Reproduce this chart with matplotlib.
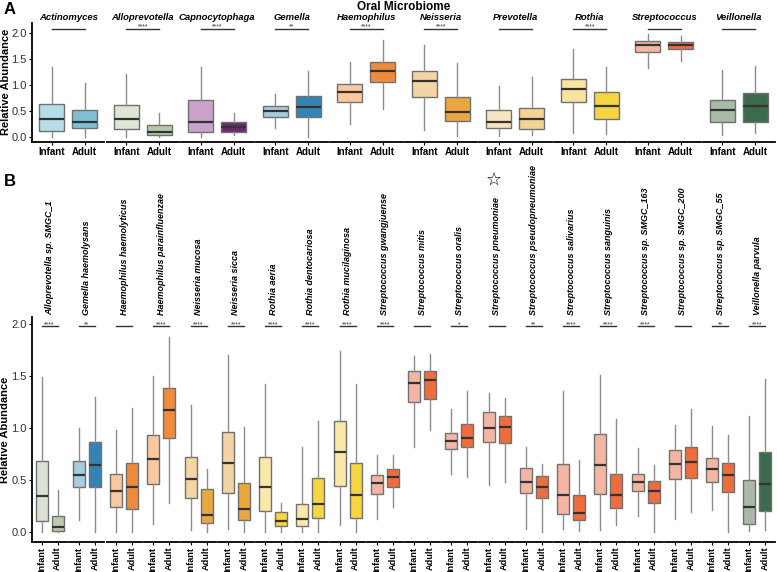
import matplotlib
matplotlib.use("Agg")
import matplotlib.pyplot as plt

plt.rcParams["font.family"] = ["Liberation Sans", "DejaVu Sans"]

W, H = 777, 572

# ---- panel A: genus level ----
genera = ["Actinomyces", "Alloprevotella", "Capnocytophaga", "Gemella", "Haemophilus",
          "Neisseria", "Prevotella", "Rothia", "Streptococcus", "Veillonella"]
genus_sig = ["", "****", "****", "**", "****", "****", "", "****", "", ""]
# [whisker low, q1, median, q3, whisker high]
genus_infant = [
    [0.00, 0.12, 0.35, 0.63, 1.34],
    [0.00, 0.15, 0.35, 0.62, 1.21],
    [0.00, 0.10, 0.28, 0.71, 1.34],
    [0.17, 0.39, 0.49, 0.60, 0.82],
    [0.24, 0.67, 0.87, 1.01, 1.44],
    [0.13, 0.76, 1.08, 1.27, 1.77],
    [0.02, 0.17, 0.28, 0.52, 0.98],
    [0.07, 0.67, 0.92, 1.11, 1.69],
    [1.33, 1.64, 1.76, 1.85, 1.97],
    [0.04, 0.29, 0.52, 0.71, 1.28],
]
genus_adult = [
    [0.00, 0.17, 0.28, 0.52, 1.03],
    [0.00, 0.04, 0.10, 0.22, 0.46],
    [0.04, 0.09, 0.18, 0.28, 0.46],
    [0.00, 0.39, 0.58, 0.79, 1.26],
    [0.54, 1.06, 1.27, 1.44, 1.87],
    [0.02, 0.31, 0.47, 0.76, 1.42],
    [0.04, 0.15, 0.34, 0.55, 1.15],
    [0.05, 0.35, 0.60, 0.86, 1.35],
    [1.46, 1.69, 1.76, 1.83, 1.94],
    [0.07, 0.29, 0.60, 0.84, 1.37],
]
genus_infant_colors = ["#b7dde8", "#dfe6d6", "#c8a2c8", "#a6cce0", "#f9c8a0",
                       "#f3d4a4", "#f8e4c0", "#f8e39f", "#f4b6a2", "#a9b9a7"]
genus_adult_colors = ["#7fbfd4", "#b8c9a6", "#6a2d6a", "#3384b4", "#ef8b3b",
                      "#e9a73f", "#f5d393", "#f5d540", "#ef6d3c", "#3c6a4d"]

# ---- panel B: species level ----
species = ["Alloprevotella sp. SMGC_1", "Gemella haemolysans", "Haemophilus haemolyticus",
           "Haemophilus parainfluenzae", "Neisseria mucosa", "Neisseria sicca",
           "Rothia aeria", "Rothia dentocariosa", "Rothia mucilaginosa",
           "Streptococcus gwangjuense", "Streptococcus mitis", "Streptococcus oralis",
           "Streptococcus pneumoniae", "Streptococcus pseudopneumoniae",
           "Streptococcus salivarius", "Streptococcus sanguinis",
           "Streptococcus sp. SMGC_163", "Streptococcus sp. SMGC_200",
           "Streptococcus sp. SMGC_55", "Veillonella parvula"]
species_sig = ["****", "**", "", "****", "****", "****", "****", "****", "****", "****",
               "", "*", "", "**", "****", "****", "****", "", "**", "****"]
species_infant = [
    [0.00, 0.10, 0.34, 0.68, 1.49],
    [0.11, 0.43, 0.55, 0.68, 1.00],
    [0.00, 0.24, 0.39, 0.56, 0.98],
    [0.07, 0.46, 0.70, 0.93, 1.50],
    [0.02, 0.32, 0.51, 0.72, 1.22],
    [0.03, 0.37, 0.66, 0.96, 1.70],
    [0.00, 0.20, 0.43, 0.72, 1.42],
    [0.00, 0.05, 0.12, 0.27, 0.82],
    [0.06, 0.44, 0.77, 1.07, 1.74],
    [0.12, 0.36, 0.47, 0.55, 0.74],
    [0.82, 1.25, 1.43, 1.55, 1.69],
    [0.56, 0.80, 0.87, 0.95, 1.18],
    [0.45, 0.86, 1.00, 1.15, 1.34],
    [0.03, 0.37, 0.48, 0.61, 0.82],
    [0.03, 0.17, 0.35, 0.65, 1.36],
    [0.02, 0.36, 0.64, 0.94, 1.51],
    [0.15, 0.39, 0.48, 0.56, 0.81],
    [0.12, 0.51, 0.65, 0.79, 1.03],
    [0.21, 0.48, 0.60, 0.71, 1.02],
    [0.01, 0.07, 0.24, 0.50, 1.12],
]
species_adult = [
    [0.00, 0.01, 0.04, 0.15, 0.40],
    [0.00, 0.43, 0.64, 0.86, 1.30],
    [0.00, 0.22, 0.43, 0.66, 1.19],
    [0.28, 0.90, 1.17, 1.39, 1.88],
    [0.00, 0.08, 0.16, 0.41, 0.60],
    [0.00, 0.11, 0.22, 0.47, 1.01],
    [0.00, 0.05, 0.10, 0.19, 0.28],
    [0.00, 0.13, 0.27, 0.52, 1.07],
    [0.00, 0.13, 0.35, 0.66, 1.42],
    [0.24, 0.43, 0.53, 0.60, 0.74],
    [0.98, 1.28, 1.46, 1.55, 1.71],
    [0.53, 0.82, 0.90, 1.04, 1.36],
    [0.48, 0.85, 1.01, 1.12, 1.29],
    [0.00, 0.32, 0.43, 0.54, 0.65],
    [0.01, 0.11, 0.18, 0.35, 0.69],
    [0.06, 0.23, 0.35, 0.56, 1.09],
    [0.00, 0.28, 0.39, 0.49, 0.64],
    [0.19, 0.52, 0.67, 0.82, 1.18],
    [0.00, 0.38, 0.55, 0.66, 0.93],
    [0.02, 0.20, 0.46, 0.77, 1.47],
]
species_infant_colors = ["#dbe2d5", "#a6cce0", "#f9c8a0", "#f9c8a0", "#f3d4a4", "#f3d4a4",
                         "#f9e8a8", "#f9e8a8", "#f9e8a8"] + ["#f4b6a2"] * 10 + ["#a9b9a7"]
species_adult_colors = ["#bccbac", "#3384b4", "#ef8b3b", "#ef8b3b", "#e9a73f", "#e9a73f",
                        "#f5d540", "#f5d540", "#f5d540"] + ["#ef6d3c"] * 10 + ["#3c6a4d"]


def draw_facets(fig, names, infant, adult, sig, inf_colors, ad_colors, step_px, width_px,
                top_px, bottom_px, ylim, sig_y, rotate):
    bottom = 1 - bottom_px / H
    height = (bottom_px - top_px) / H
    axes = []
    for i, name in enumerate(names):
        ax = fig.add_axes([(32 + i * step_px) / W, bottom, width_px / W, height])
        stats = []
        for label, vals in (("Infant", infant[i]), ("Adult", adult[i])):
            lo, q1, med, q3, hi = vals
            stats.append(dict(label=label, whislo=lo, q1=q1, med=med, q3=q3,
                              whishi=hi, fliers=[]))
        bp = ax.bxp(stats, positions=[1, 2], widths=0.75, patch_artist=True,
                    showcaps=False, showfliers=False,
                    boxprops=dict(edgecolor="#707070", linewidth=1.0),
                    whiskerprops=dict(color="#8c8c8c", linewidth=1.0),
                    medianprops=dict(color="#333333", linewidth=1.6))
        for patch, c in zip(bp["boxes"], (inf_colors[i], ad_colors[i])):
            patch.set_facecolor(c)
        ax.set_xlim(0.4, 2.6)
        ax.set_ylim(*ylim)
        for s in ("top", "right"):
            ax.spines[s].set_visible(False)
        ax.spines["bottom"].set_linewidth(1.3)
        ax.spines["left"].set_linewidth(1.3)
        ax.tick_params(axis="x", length=2, pad=1.5)
        ax.set_xticklabels(["Infant", "Adult"], fontsize=6.6 if rotate else 7,
                           fontweight="bold", rotation=90 if rotate else 0)
        if i == 0:
            ax.set_yticks([0, 0.5, 1.0, 1.5, 2.0])
            ax.set_yticklabels(["0.0", "0.5", "1.0", "1.5", "2.0"])
            ax.tick_params(axis="y", length=2, pad=2, labelsize=8, labelcolor="#303030")
        else:
            ax.spines["left"].set_visible(False)
            ax.set_yticks([])
        # significance bracket
        ax.plot([1, 2], [sig_y, sig_y], color="#333333", lw=1.0, clip_on=False)
        if sig[i]:
            ax.text(1.5, sig_y, sig[i], ha="center", va="baseline", fontsize=5,
                    color="#333333", clip_on=False)
        axes.append(ax)
    return axes


fig = plt.figure(figsize=(W / 100, H / 100), dpi=100)

# panel A
axes_a = draw_facets(fig, genera, genus_infant, genus_adult, genus_sig,
                     genus_infant_colors, genus_adult_colors, 74.5, 72.5,
                     23, 142, (-0.1, 2.19), 2.08, False)
for ax, name in zip(axes_a, genera):
    ax.text(0.5, 1.025, name, transform=ax.transAxes, ha="center", va="baseline",
            fontsize=6.8, fontweight="bold", style="italic")

# panel B
axes_b = draw_facets(fig, species, species_infant, species_adult, species_sig,
                     species_infant_colors, species_adult_colors, 37.25, 35.25,
                     317, 542, (-0.1, 2.07), 1.98, True)
for ax, name in zip(axes_b, species):
    ax.text(0.5, 1.01, name, transform=ax.transAxes, ha="center", va="bottom",
            rotation=90, fontsize=6.5, fontweight="bold", style="italic")
    if name == "Streptococcus pneumoniae":
        ax.text(0.43, 1 + 137 / 225, "\u2606", transform=ax.transAxes, ha="center",
                va="center", fontsize=13, family="DejaVu Sans")

fig.text(404 / W, 1 - 7 / H, "Oral Microbiome", ha="center", va="center",
         fontsize=8.5, fontweight="bold")
fig.text(6 / W, 1 - 82 / H, "Relative Abundance", ha="center", va="center",
         rotation=90, fontsize=8, fontweight="bold")
fig.text(5 / W, 1 - 430 / H, "Relative Abundance", ha="center", va="center",
         rotation=90, fontsize=8, fontweight="bold")
fig.text(4 / W, 1 - 9 / H, "A", ha="left", va="center", fontsize=12, fontweight="bold")
fig.text(4 / W, 1 - 181 / H, "B", ha="left", va="center", fontsize=12, fontweight="bold")

fig.savefig("out.png", dpi=100)
